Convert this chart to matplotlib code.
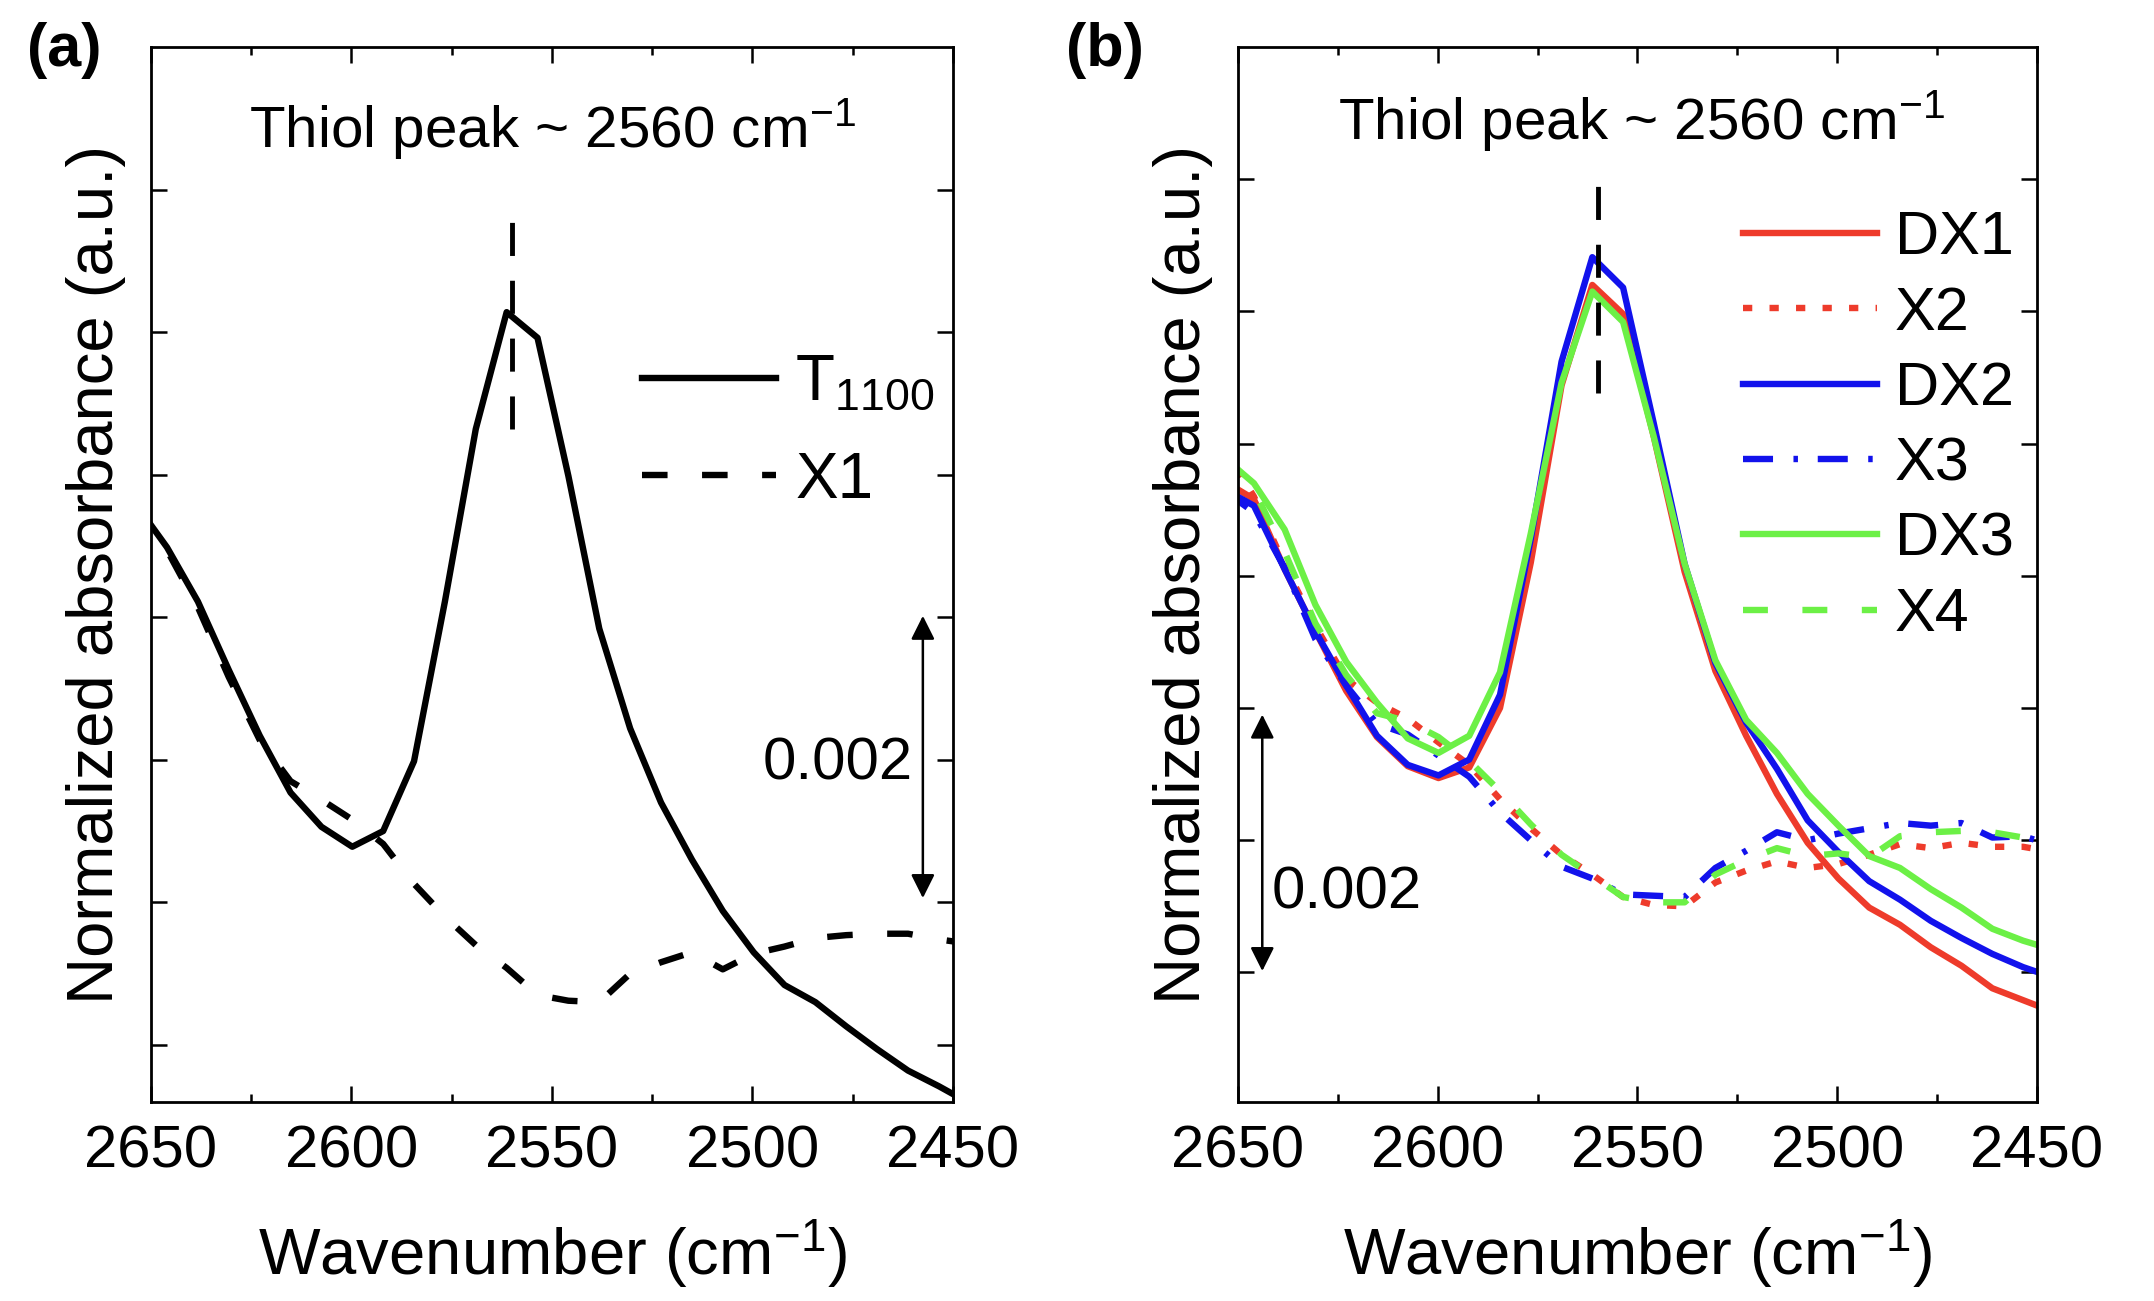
import matplotlib
matplotlib.use('Agg')
import matplotlib.pyplot as plt
from matplotlib.ticker import MultipleLocator, FixedLocator

plt.rcParams['font.family'] = ['Liberation Sans', 'DejaVu Sans']
plt.rcParams['mathtext.fontset'] = 'custom'
plt.rcParams['mathtext.rm'] = 'Liberation Sans'
plt.rcParams['mathtext.it'] = 'Liberation Sans:italic'
plt.rcParams['mathtext.bf'] = 'Liberation Sans:bold'

# ---------------- data ----------------
WN = [2653.7, 2646.0, 2638.3, 2630.6, 2622.9, 2615.2, 2607.5, 2599.8, 2592.1, 2584.4,
      2576.7, 2569.0, 2561.3, 2553.6, 2545.9, 2538.2, 2530.5, 2522.8, 2515.1, 2507.4,
      2499.7, 2492.0, 2484.3, 2476.6, 2468.9, 2461.2, 2453.5, 2445.8]

# panel (a)
T1100 = [0.00479, 0.00449, 0.00411, 0.00363, 0.00317, 0.00277, 0.00253, 0.00239, 0.00250, 0.00299,
         0.00411, 0.00532, 0.00614, 0.00596, 0.00499, 0.00392, 0.00322, 0.00270, 0.00230, 0.00194,
         0.00165, 0.00142, 0.00130, 0.00113, 0.00097, 0.00082, 0.00071, 0.00059]
X1 = [0.00478, 0.00447, 0.00407, 0.00358, 0.00314, 0.00285, 0.00272, 0.00258, 0.00241, 0.00213,
      0.00190, 0.00170, 0.00154, 0.00135, 0.00131, 0.00130, 0.00150, 0.00158, 0.00165, 0.00153,
      0.00164, 0.00169, 0.00175, 0.00177, 0.00178, 0.00178, 0.00174, 0.00171]

# panel (b)
DX1 = [0.00472, 0.00458, 0.00405, 0.00358, 0.00313, 0.00278, 0.00256, 0.00247, 0.00255, 0.00300,
       0.00410, 0.00544, 0.00620, 0.00598, 0.00505, 0.00403, 0.00328, 0.00279, 0.00235, 0.00198,
       0.00171, 0.00149, 0.00136, 0.00119, 0.00105, 0.00088, 0.00079, 0.00070]
X2 = [0.00498, 0.00460, 0.00408, 0.00362, 0.00322, 0.00304, 0.00292, 0.00274, 0.00257, 0.00231,
      0.00209, 0.00189, 0.00174, 0.00157, 0.00151, 0.00150, 0.00168, 0.00177, 0.00184, 0.00179,
      0.00182, 0.00189, 0.00197, 0.00194, 0.00198, 0.00195, 0.00195, 0.00191]
DX2 = [0.00466, 0.00453, 0.00405, 0.00358, 0.00317, 0.00279, 0.00257, 0.00249, 0.00261, 0.00310,
       0.00428, 0.00562, 0.00641, 0.00618, 0.00515, 0.00409, 0.00334, 0.00289, 0.00254, 0.00215,
       0.00191, 0.00169, 0.00155, 0.00139, 0.00126, 0.00114, 0.00104, 0.00096]
X3 = [0.00465, 0.00448, 0.00406, 0.00352, 0.00317, 0.00288, 0.00280, 0.00264, 0.00248, 0.00221,
      0.00200, 0.00180, 0.00171, 0.00159, 0.00158, 0.00157, 0.00179, 0.00192, 0.00206, 0.00200,
      0.00205, 0.00209, 0.00213, 0.00211, 0.00213, 0.00202, 0.00203, 0.00196]
DX3 = [0.00490, 0.00470, 0.00435, 0.00378, 0.00335, 0.00304, 0.00277, 0.00266, 0.00279, 0.00327,
       0.00432, 0.00546, 0.00615, 0.00592, 0.00505, 0.00409, 0.00336, 0.00291, 0.00266, 0.00235,
       0.00211, 0.00188, 0.00179, 0.00163, 0.00149, 0.00133, 0.00124, 0.00117]
X4 = [0.00490, 0.00465, 0.00418, 0.00364, 0.00325, 0.00296, 0.00290, 0.00278, 0.00260, 0.00237,
      0.00212, 0.00189, 0.00173, 0.00157, 0.00153, 0.00153, 0.00174, 0.00185, 0.00194, 0.00188,
      0.00190, 0.00187, 0.00203, 0.00206, 0.00207, 0.00206, 0.00202, 0.00198]

XTICKS = [2650, 2600, 2550, 2500, 2450]
YTICKS = [0.001, 0.002, 0.003, 0.004, 0.005, 0.006, 0.007]
PEAK_WN = 2560
PEAK_LINE_A = [0.00532, 0.00679]
PEAK_LINE_B = [0.00538, 0.00696]
SCALE_A = [0.00203, 0.00401]
SCALE_B = [0.00101, 0.00295]
SCALE_LABEL = '0.002'
TITLE = 'Thiol peak ~ 2560 cm$^{\\mathregular{-1}}$'

RED = '#EE3B2B'
BLUE = '#1212EC'
GREEN = '#6CF046'

# ---------------- figure ----------------
fig = plt.figure(figsize=(21.54, 13.01), dpi=100)
ax1 = fig.add_axes([0.0701, 0.1530, 0.3723, 0.8109])
ax2 = fig.add_axes([0.5747, 0.1530, 0.3710, 0.8109])

LW = 4.6

# panel (a) curves
ax1.plot(WN, T1100, color='k', lw=LW, label='$\\mathregular{T_{1100}}$')
ax1.plot(WN, X1, color='k', lw=LW, dashes=(4.0, 5.4), label='X1')
ax1.plot([PEAK_WN, PEAK_WN], PEAK_LINE_A, color='k', lw=3.5, dashes=(6.8, 5.1))

# panel (b) curves
ax2.plot(WN, DX1, color=RED, lw=LW, label='DX1')
ax2.plot(WN, X2, color=RED, lw=LW, dashes=(1.45, 2.7), label='X2')
ax2.plot(WN, DX2, color=BLUE, lw=LW, label='DX2')
ax2.plot(WN, X3, color=BLUE, lw=LW, dashes=(4.7, 3.2, 0.7, 3.1), label='X3')
ax2.plot(WN, DX3, color=GREEN, lw=LW, label='DX3')
ax2.plot(WN, X4, color=GREEN, lw=LW, dashes=(3.9, 5.4), label='X4')
ax2.plot([PEAK_WN, PEAK_WN], PEAK_LINE_B, color='k', lw=3.5, dashes=(6.8, 5.1))

for ax, ylo in ((ax1, 0.0006), (ax2, 0.00002)):
    ax.set_xlim(2650, 2450)
    ax.set_ylim(ylo, 0.008)
    ax.xaxis.set_major_locator(FixedLocator(XTICKS))
    ax.xaxis.set_minor_locator(MultipleLocator(25))
    ax.yaxis.set_major_locator(FixedLocator(YTICKS))
    ax.tick_params(axis='both', which='both', direction='in', top=True, right=True, width=1.8)
    ax.tick_params(axis='both', which='major', length=11.5)
    ax.tick_params(axis='x', which='minor', length=6)
    ax.tick_params(axis='x', labelsize=43, pad=16)
    ax.tick_params(axis='y', labelleft=False)
    for s in ax.spines.values():
        s.set_linewidth(2.0)
    ax.set_xlabel('Wavenumber (cm$^{\\mathregular{-1}}$)', fontsize=47, labelpad=28)
    ax.set_ylabel('Normalized absorbance (a.u.)', fontsize=47, labelpad=18)

# titles inside
ax1.text(0.5, 0.905, TITLE, transform=ax1.transAxes, ha='center', va='baseline', fontsize=42)
ax2.text(0.505, 0.913, TITLE, transform=ax2.transAxes, ha='center', va='baseline', fontsize=42)

# scale bars
arrow_kw = dict(arrowstyle='<|-|>', color='k', lw=1.8, shrinkA=0, shrinkB=0, mutation_scale=36)
ax1.annotate('', xy=(2457.5, SCALE_A[0]), xytext=(2457.5, SCALE_A[1]), arrowprops=arrow_kw)
ax1.text(2460.0, 0.00286, SCALE_LABEL, ha='right', va='baseline', fontsize=43)
ax2.annotate('', xy=(2643.9, SCALE_B[0]), xytext=(2643.9, SCALE_B[1]), arrowprops=arrow_kw)
ax2.text(2641.6, 0.00148, SCALE_LABEL, ha='left', va='baseline', fontsize=43)

# legends
ax1.legend(loc='upper left', bbox_to_anchor=(0.612, 0.710), frameon=False, fontsize=46,
           handlelength=2.1, handletextpad=0.3, labelspacing=0.59, borderpad=0, borderaxespad=0)
ax2.legend(loc='upper left', bbox_to_anchor=(0.632, 0.845), frameon=False, fontsize=44,
           handlelength=2.2, handletextpad=0.28, labelspacing=0.30, borderpad=0, borderaxespad=0)

# panel labels
fig.text(27 / 2154, 1 - 22 / 1301, '(a)', ha='left', va='top', fontsize=44, fontweight='bold')
fig.text(1066 / 2154, 1 - 22 / 1301, '(b)', ha='left', va='top', fontsize=44, fontweight='bold')

fig.savefig('out.png', dpi=100)
